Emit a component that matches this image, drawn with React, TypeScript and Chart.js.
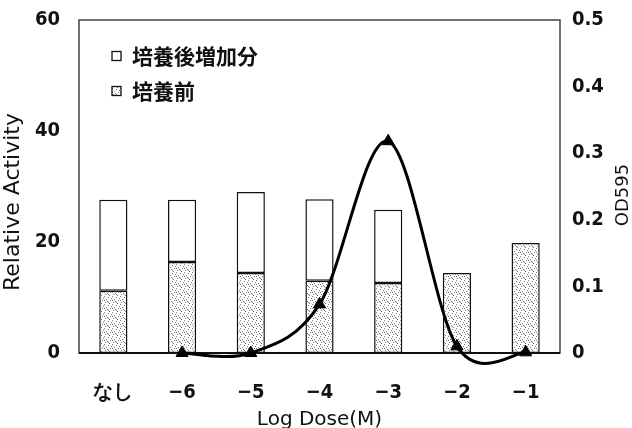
import React, { useEffect, useRef } from 'react';
import { Chart, registerables } from 'chart.js';

Chart.register(...registerables);

const categories = ['なし', '−6', '−5', '−4', '−3', '−2', '−1'];
const beforeCulture = [11.2, 16.4, 14.4, 13.0, 12.6, 14.4, 19.8];
const increaseAfterCulture = [16.4, 11.2, 14.6, 14.7, 13.2, 0, 0];
const od595 = [null, 0, 0, 0.073, 0.318, 0.01, 0.001];
const labelBefore = '培養前';
const labelAfter = '培養後増加分';
const labelOd = 'OD595';
const leftTitle = 'Relative Activity';
const rightTitle = 'OD595';
const xTitle = 'Log Dose(M)';

const TICK_FONT = '"DejaVu Sans Condensed", "Liberation Sans", sans-serif';
const TITLE_FONT = '"DejaVu Sans", sans-serif';
const CJK_FONT = '"Noto Sans CJK JP", "Noto Sans CJK SC", sans-serif';

function makeStipple(): CanvasPattern | string {
  const c = document.createElement('canvas');
  c.width = 8;
  c.height = 8;
  const g = c.getContext('2d');
  if (!g) return '#ddd';
  g.fillStyle = '#ffffff';
  g.fillRect(0, 0, 8, 8);
  const dots = [
    [0, 0], [4, 1], [7, 2], [2, 3], [6, 4], [3, 5], [1, 6], [5, 7], [0, 4], [4, 6],
  ];
  g.fillStyle = '#7a7a7a';
  dots.forEach(([x, y]) => g.fillRect(x, y, 1, 1));
  const p = g.createPattern(c, 'repeat');
  return p || '#ddd';
}

export default function App() {
  const ref = useRef<HTMLCanvasElement | null>(null);

  useEffect(() => {
    document.body.style.margin = '0';
    const canvas = ref.current;
    if (!canvas) return;
    const stipple = makeStipple();

    // Excel-like smoothing: uniform Catmull-Rom control points (1/6 rule)
    const smoothPlugin = {
      id: 'smooth',
      beforeDatasetDraw(chart: any, args: any) {
        const meta = args.meta;
        if (meta.type !== 'line') return;
        meta.dataset.updateControlPoints(chart.chartArea, 'x');
        const pts = meta.data.filter((p: any) => !p.skip);
        pts.forEach((p: any, i: number) => {
          const prev = pts[i - 1] || p;
          const next = pts[i + 1] || p;
          const dx = (next.x - prev.x) / 6;
          const dy = (next.y - prev.y) / 6;
          p.cp1x = p.x - dx;
          p.cp1y = p.y - dy;
          p.cp2x = p.x + dx;
          p.cp2y = p.y + dy;
        });
      },
    };

    const framePlugin = {
      id: 'frame',
      beforeDatasetsDraw(chart: any) {
        const { ctx, chartArea: a } = chart;
        ctx.save();
        ctx.strokeStyle = '#444';
        ctx.lineWidth = 1.5;
        ctx.strokeRect(a.left, a.top, a.right - a.left, a.bottom - a.top);
        ctx.strokeStyle = '#111';
        ctx.lineWidth = 2;
        ctx.beginPath();
        ctx.moveTo(a.left, a.bottom);
        ctx.lineTo(a.right, a.bottom);
        ctx.stroke();
        ctx.restore();
      },
      afterDraw(chart: any) {
        const { ctx } = chart;
        const ds = chart.data.datasets;
        ctx.save();
        const items = [
          { label: ds[1].label, fill: '#ffffff', y: 56 },
          { label: ds[0].label, fill: stipple, y: 91 },
        ];
        items.forEach((it) => {
          ctx.fillStyle = it.fill;
          ctx.fillRect(112, it.y - 4.5, 9, 9);
          ctx.strokeStyle = '#111';
          ctx.lineWidth = 1.3;
          ctx.strokeRect(112, it.y - 4.5, 9, 9);
          ctx.fillStyle = '#111';
          ctx.font = 'bold 21px ' + CJK_FONT;
          ctx.textBaseline = 'middle';
          ctx.textAlign = 'left';
          ctx.fillText(it.label, 132, it.y);
        });
        ctx.fillStyle = '#111';
        ctx.textAlign = 'center';
        ctx.textBaseline = 'alphabetic';
        ctx.save();
        ctx.translate(19, 202);
        ctx.rotate(-Math.PI / 2);
        ctx.font = '22px ' + TITLE_FONT;
        ctx.fillText(leftTitle, 0, 0);
        ctx.restore();
        ctx.save();
        ctx.translate(628, 195);
        ctx.rotate(-Math.PI / 2);
        ctx.font = '18px ' + TITLE_FONT;
        ctx.fillText(rightTitle, 0, 0);
        ctx.restore();
        ctx.restore();
      },
    };

    const tickFont = { family: TICK_FONT, size: 20, weight: 'bold' as const };

    const chart = new Chart(canvas, {
      type: 'bar',
      data: {
        labels: categories,
        datasets: [
          {
            type: 'bar',
            label: labelBefore,
            data: beforeCulture,
            backgroundColor: stipple as any,
            borderColor: '#111',
            borderWidth: 1.5,
            borderSkipped: false,
            stack: 's',
            yAxisID: 'y',
            order: 2,
            barPercentage: 0.41,
            categoryPercentage: 1,
          },
          {
            type: 'bar',
            label: labelAfter,
            data: increaseAfterCulture,
            backgroundColor: '#ffffff',
            borderColor: '#111',
            borderWidth: 1.5,
            borderSkipped: false,
            stack: 's',
            yAxisID: 'y',
            order: 2,
            barPercentage: 0.41,
            categoryPercentage: 1,
          },
          {
            type: 'line',
            label: labelOd,
            data: od595 as any,
            yAxisID: 'y2',
            borderColor: '#000',
            borderWidth: 3,
            tension: 0.4,
            pointStyle: 'triangle',
            pointRadius: 7,
            pointBackgroundColor: '#000',
            pointBorderColor: '#000',
            pointBorderWidth: 1,
            clip: false as any,
            order: 0,
            spanGaps: false,
          },
        ],
      },
      options: {
        responsive: false,
        animation: false,
        layout: { padding: { top: 20, left: 0, right: 0, bottom: 0 } },
        elements: { line: { capBezierPoints: false } },
        plugins: {
          legend: { display: false },
          tooltip: { enabled: false },
        },
        scales: {
          x: {
            stacked: true,
            offset: true,
            grid: { display: false, drawTicks: false },
            border: { display: false },
            ticks: {
              padding: 28,
              color: '#111',
              font: tickFont,
              maxRotation: 0,
              autoSkip: false,
            },
            title: {
              display: true,
              text: xTitle,
              color: '#111',
              font: { family: TITLE_FONT, size: 20 },
              padding: { top: 0, bottom: -4 },
            },
            afterFit(scale: any) {
              scale.height = 75;
              scale.paddingLeft = 0;
              scale.paddingRight = 0;
            },
          },
          y: {
            stacked: true,
            position: 'left',
            min: 0,
            max: 60,
            grid: { display: false, drawTicks: false },
            border: { display: false },
            ticks: {
              stepSize: 20,
              padding: 19,
              color: '#111',
              font: tickFont,
            },
            afterFit(scale: any) {
              scale.width = 79;
              scale.paddingTop = 0;
              scale.paddingBottom = 0;
            },
          },
          y2: {
            position: 'right',
            min: 0,
            max: 0.5,
            grid: { display: false, drawTicks: false },
            border: { display: false },
            ticks: {
              stepSize: 0.1,
              padding: 12,
              color: '#111',
              font: tickFont,
            },
            afterFit(scale: any) {
              scale.width = 72;
              scale.paddingTop = 0;
              scale.paddingBottom = 0;
            },
          },
        },
      },
      plugins: [smoothPlugin, framePlugin],
    });

    return () => chart.destroy();
  }, []);

  return (
    <div style={{ width: 632, height: 428, background: '#fff' }}>
      <canvas ref={ref} width={632} height={428} />
    </div>
  );
}
